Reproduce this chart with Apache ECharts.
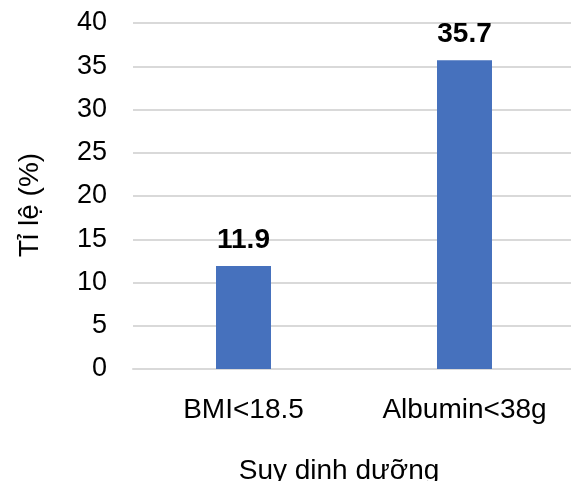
<!DOCTYPE html>
<html>
<head>
<meta charset="utf-8">
<style>
  html, body { margin: 0; padding: 0; background: #fff; }
  #chart { width: 571px; height: 481px; }
</style>
<script src="https://cdn.jsdelivr.net/npm/echarts@6/dist/echarts.min.js"></script>
</head>
<body>
<div id="chart"></div>
<script>
// Malnutrition rates by criterion
const categories = ['BMI<18.5', 'Albumin<38g'];
const rates = [11.9, 35.7];
const yTicks = { min: 0, max: 40, interval: 5 };

const FONT = '"Liberation Sans", Arial, sans-serif';
const chart = echarts.init(document.getElementById('chart'), null, { renderer: 'canvas' });

chart.setOption({
  animation: false,
  grid: { left: 133, right: -4, top: 23, bottom: 112, outerBoundsMode: 'none', containLabel: false },
  xAxis: {
    type: 'category',
    data: categories,
    name: 'Suy dinh dưỡng',
    nameLocation: 'middle',
    nameGap: 88,
    nameTextStyle: { fontFamily: FONT, fontSize: 28, color: '#000', padding: [0, 30, 0, 0] },
    axisLine: { lineStyle: { color: '#d9d9d9', width: 2 } },
    axisTick: { show: false },
    axisLabel: { fontFamily: FONT, fontSize: 28, color: '#000', margin: 27 }
  },
  yAxis: {
    type: 'value',
    min: yTicks.min,
    max: yTicks.max,
    interval: yTicks.interval,
    name: 'Tỉ lệ (%)',
    nameLocation: 'middle',
    nameRotate: 90,
    nameGap: 89,
    nameTextStyle: { fontFamily: FONT, fontSize: 28, color: '#000', padding: [0, 18, 0, 0] },
    axisLine: { show: false },
    axisTick: { show: false },
    axisLabel: { fontFamily: FONT, fontSize: 27, color: '#000', margin: 26 },
    splitLine: { lineStyle: { color: '#d9d9d9', width: 2 } }
  },
  series: [{
    type: 'bar',
    data: rates,
    barWidth: 55,
    itemStyle: { color: '#4671BD' },
    label: {
      show: true,
      position: 'top',
      distance: 12,
      fontFamily: FONT,
      fontSize: 28,
      fontWeight: 'bold',
      color: '#000',
      formatter: p => p.value.toFixed(1)
    }
  }]
});
</script>
</body>
</html>
